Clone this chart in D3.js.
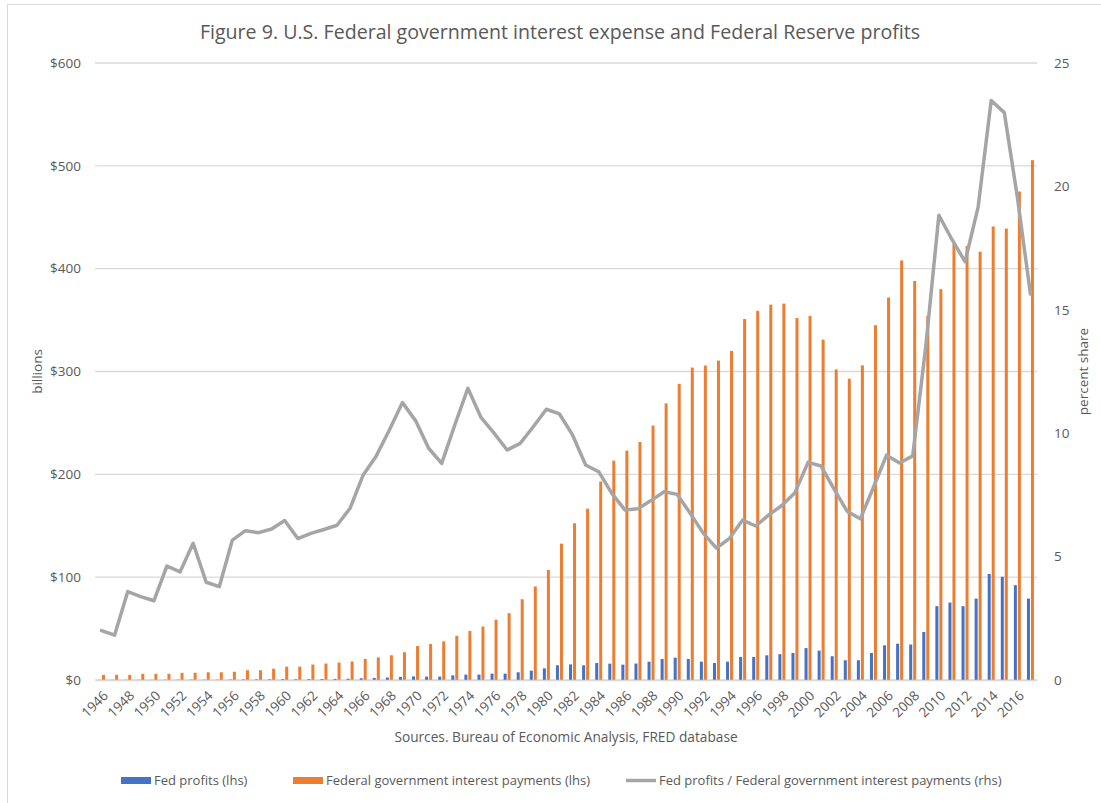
<!DOCTYPE html>
<html>
<head>
<meta charset="utf-8">
<script src="https://cdn.jsdelivr.net/npm/d3@7"></script>
<style>
  body { margin: 0; background: #fff; }
  text { font-family: "Open Sans", "Noto Sans", sans-serif; fill: #595959; }
</style>
</head>
<body>
<script>
let years = d3.range(1946, 2018);

// Fed profits, billions (lhs)
let fedProfits = [
  0.1, 0.09, 0.18, 0.2, 0.19, 0.28, 0.3, 0.39, 0.3, 0.28,
  0.45, 0.57, 0.57, 0.67, 0.84, 0.75, 0.89, 0.98, 1.07, 1.25,
  1.7, 2.0, 2.43, 3.0, 3.47, 3.3, 3.3, 4.5, 5.2, 5.2,
  6.2, 6.2, 7.5, 9.1, 11.3, 14.3, 15.2, 14.3, 16.5, 15.9,
  14.9, 16.0, 17.8, 20.4, 21.7, 20.4, 17.8, 16.5, 17.8, 22.4,
  22.4, 24.0, 25.1, 26.3, 31.0, 28.6, 23.1, 19.2, 19.2, 26.3,
  33.7, 35.3, 34.5, 46.7, 71.8, 75.3, 71.8, 79.2, 103.1, 100.4,
  92.2, 79.2
];

// Federal government interest payments, billions (lhs)
let interestPayments = [
  5, 5, 5, 6, 6, 6, 7, 7, 7.5, 7.5,
  8, 9.5, 9.5, 11, 13, 13, 15, 16, 17, 18,
  20.5, 22, 24, 27, 33, 35, 37.6, 43, 47.7, 52,
  58.7, 65, 78.5, 91, 107, 132.6, 152.4, 166.6, 193, 213.3,
  223, 231.5, 247.4, 269, 288, 303.8, 305.8, 310.6, 320, 351,
  359, 365, 366, 352, 354, 331, 302, 293, 306, 345,
  372, 408, 388, 354, 380, 424, 422, 416.5, 441, 439,
  475, 505.5
];

// Fed profits / interest payments, percent (rhs)
let shareValues = [
  2.0, 1.82, 3.58, 3.38, 3.21, 4.62, 4.38, 5.54, 3.96, 3.78,
  5.67, 6.05, 5.97, 6.12, 6.46, 5.73, 5.94, 6.1, 6.27, 6.96,
  8.31, 9.08, 10.13, 11.24, 10.51, 9.39, 8.78, 10.33, 11.82, 10.64,
  10.0, 9.32, 9.59, 10.26, 10.97, 10.78, 9.93, 8.71, 8.44, 7.56,
  6.89, 6.94, 7.27, 7.63, 7.52, 6.75, 5.94, 5.34, 5.74, 6.48,
  6.24, 6.69, 7.07, 7.59, 8.82, 8.67, 7.72, 6.83, 6.53, 7.81,
  9.11, 8.79, 9.08, 13.52, 18.83, 17.85, 16.95, 19.16, 23.48, 22.99,
  19.56, 15.64
];

let leftTicks = [0, 100, 200, 300, 400, 500, 600];
let rightTicks = [0, 5, 10, 15, 20, 25];

let seriesNames = ["Fed profits (lhs)", "Federal government interest payments (lhs)", "Fed profits / Federal government interest payments (rhs)"];
let colores = ["#4472C4", "#ED7D31", "#A5A5A5"];

function graficar() {
  let w = 1101;
  let h = 803;
  let m = { left: 95, right: 64, top: 63, bottom: 123 };

  let svg = d3.select("body").append("svg").attr("width", w).attr("height", h);

  // borde del grafico
  svg.append("rect")
    .attr("x", 7.5)
    .attr("y", 4.5)
    .attr("width", w + 20)
    .attr("height", h + 20)
    .attr("fill", "none")
    .attr("stroke", "#D9D9D9");

  let x = d3.scaleBand().domain(years).range([m.left, w - m.right]);
  let y = d3.scaleLinear().domain([0, 600]).range([h - m.bottom, m.top]);
  let y2 = d3.scaleLinear().domain([0, 25]).range([h - m.bottom, m.top]);

  // titulo
  svg.append("text")
    .attr("x", 560)
    .attr("y", 39)
    .attr("text-anchor", "middle")
    .style("font-size", "19.6px")
    .text("Figure 9. U.S. Federal government interest expense and Federal Reserve profits");

  // lineas de la grilla
  svg.append("g")
    .selectAll("line")
    .data(leftTicks)
    .enter()
    .append("line")
    .attr("x1", m.left)
    .attr("x2", w - m.right)
    .attr("y1", (d) => y(d))
    .attr("y2", (d) => y(d))
    .attr("stroke", "#D9D9D9")
    .attr("stroke-width", 1.3);

  // eje izquierdo
  let ejeY = svg.append("g")
    .attr("transform", "translate(" + (m.left - 11) + ",0)")
    .call(d3.axisLeft(y).tickValues(leftTicks).tickSize(0).tickFormat((d) => "$" + d));
  ejeY.select(".domain").remove();
  ejeY.selectAll("text").style("font-size", "13.5px").attr("fill", "#595959");

  // eje derecho
  let ejeY2 = svg.append("g")
    .attr("transform", "translate(" + (w - m.right + 14) + ",0)")
    .call(d3.axisRight(y2).tickValues(rightTicks).tickSize(0));
  ejeY2.select(".domain").remove();
  ejeY2.selectAll("text").style("font-size", "13.5px").attr("fill", "#595959");

  // barras
  let barW = 3;
  svg.append("g")
    .selectAll("rect")
    .data(fedProfits)
    .enter()
    .append("rect")
    .attr("x", (d, i) => x(years[i]) + x.bandwidth() / 2 - barW - 0.5)
    .attr("y", (d) => y(d))
    .attr("width", barW)
    .attr("height", (d) => y(0) - y(d))
    .attr("fill", colores[0]);

  svg.append("g")
    .selectAll("rect")
    .data(interestPayments)
    .enter()
    .append("rect")
    .attr("x", (d, i) => x(years[i]) + x.bandwidth() / 2 + 0.5)
    .attr("y", (d) => y(d))
    .attr("width", barW)
    .attr("height", (d) => y(0) - y(d))
    .attr("fill", colores[1]);

  // eje x
  let ejeX = svg.append("g")
    .attr("transform", "translate(0," + y(0) + ")")
    .call(d3.axisBottom(x).tickValues(years.filter((d) => d % 2 == 0)).tickSize(0).tickSizeOuter(0));
  ejeX.select(".domain").attr("stroke", "#D9D9D9").attr("stroke-width", 1.3);
  ejeX.selectAll("text")
    .style("font-size", "13.5px")
    .attr("fill", "#595959")
    .attr("text-anchor", "end")
    .attr("dy", "0.35em")
    .attr("transform", "translate(2,11) rotate(-45)");

  // linea
  let linea = d3.line()
    .x((d, i) => x(years[i]) + x.bandwidth() / 2)
    .y((d) => y2(d));

  svg.append("path")
    .datum(shareValues)
    .attr("d", linea)
    .attr("fill", "none")
    .attr("stroke", colores[2])
    .attr("stroke-width", 3.5)
    .attr("stroke-linejoin", "round")
    .attr("stroke-linecap", "round");

  // titulos de ejes
  svg.append("text")
    .attr("transform", "translate(42," + (y(300)) + ") rotate(-90)")
    .attr("text-anchor", "middle")
    .style("font-size", "13.5px")
    .text("billions");

  svg.append("text")
    .attr("transform", "translate(1088," + (y(300)) + ") rotate(-90)")
    .attr("text-anchor", "middle")
    .style("font-size", "13.5px")
    .text("percent share");

  svg.append("text")
    .attr("x", (m.left + w - m.right) / 2)
    .attr("y", 742)
    .attr("text-anchor", "middle")
    .style("font-size", "13.7px")
    .text("Sources. Bureau of Economic Analysis, FRED database");

  // leyenda
  let leyX = [121, 293, 626];
  let ley = svg.append("g");
  seriesNames.forEach(function (nombre, i) {
    if (i < 2) {
      ley.append("rect")
        .attr("x", leyX[i])
        .attr("y", 777)
        .attr("width", 30)
        .attr("height", 7)
        .attr("fill", colores[i]);
    } else {
      ley.append("line")
        .attr("x1", leyX[i])
        .attr("x2", leyX[i] + 30)
        .attr("y1", 780.5)
        .attr("y2", 780.5)
        .attr("stroke", colores[i])
        .attr("stroke-width", 3.5);
    }
    ley.append("text")
      .attr("x", leyX[i] + 33)
      .attr("y", 785)
      .style("font-size", "13px")
      .text(nombre);
  });
}

graficar();
</script>
</body>
</html>
